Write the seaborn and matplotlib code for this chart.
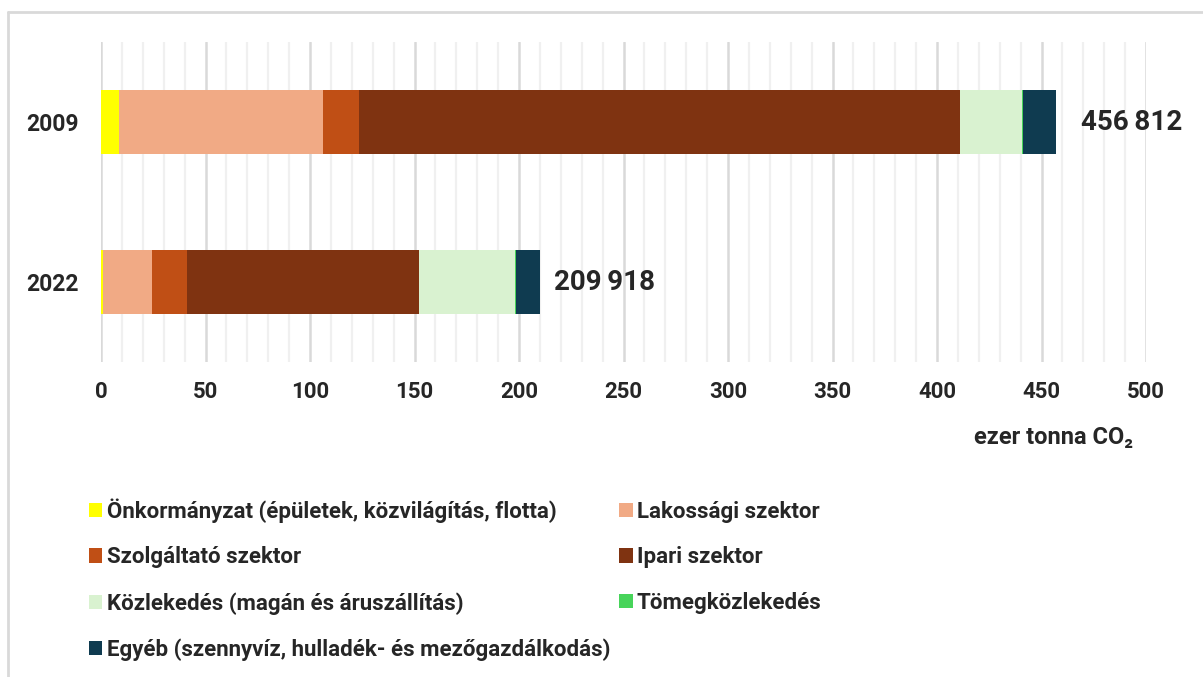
import matplotlib
matplotlib.use("Agg")
import matplotlib.pyplot as plt
import seaborn as sns
import pandas as pd
import numpy as np
from matplotlib.lines import Line2D
from matplotlib.patches import Patch

years = ["2009", "2022"]
sectors = [
    "Önkormányzat (épületek, közvilágítás, flotta)",
    "Lakossági szektor",
    "Szolgáltató szektor",
    "Ipari szektor",
    "Közlekedés (magán és áruszállítás)",
    "Tömegközlekedés",
    "Egyéb (szennyvíz, hulladék- és mezőgazdálkodás)",
]
colors = ["#FFFF00", "#F1AA85", "#C04F15", "#7F3311", "#D9F2D0", "#47D45A", "#0F3B50"]
vals_2009 = [8.6, 97.4, 17.3, 287.9, 29.5, 0.5, 15.612]
vals_2022 = [1.1, 23.2, 17.0, 110.7, 45.9, 0.5, 11.518]
totals = ["456\u2009812", "209\u2009918"]

sns.set_style("white")
plt.rcParams["font.family"] = ["Roboto", "DejaVu Sans"]
plt.rcParams["font.weight"] = "bold"

# cumulative ends for stacked bars
cum = np.cumsum(np.array([vals_2009, vals_2022]), axis=1)
df = pd.DataFrame(cum, index=years, columns=sectors).reset_index(names="year")

fig = plt.figure(figsize=(12.03, 6.77), dpi=100)
ax = fig.add_axes([101 / 1203, 1 - 362 / 677, 1045 / 1203, 320 / 677])

# draw from the largest cumulative down so smaller segments sit on top
for i in range(len(sectors) - 1, -1, -1):
    sns.barplot(data=df, x=sectors[i], y="year", order=years, orient="h",
                color=colors[i], width=0.4, linewidth=0, saturation=1, ax=ax)

ax.set_xlim(0, 500)
ax.set_ylim(1.5, -0.5)
ax.set_xticks(np.arange(0, 501, 50))
ax.set_xticks(np.arange(0, 501, 10), minor=True)
ax.grid(True, axis="x", which="minor", color="#f0f0f0", lw=1.6)
ax.grid(True, axis="x", which="major", color="#d9d9d9", lw=1.8)
ax.set_axisbelow(True)
ax.tick_params(axis="both", which="both", length=0)
ax.tick_params(axis="x", pad=14, labelsize=16)
ax.tick_params(axis="y", pad=16, labelsize=16.5)
for lab in ax.get_xticklabels() + ax.get_yticklabels():
    lab.set_fontweight("bold")
ax.set_xlabel("")
ax.set_ylabel("")
sns.despine(ax=ax, left=True, bottom=True)

offsets = [18, 10]
for j, t in enumerate(totals):
    ax.annotate(t, xy=(cum[j, -1], j), xytext=(offsets[j], 0), textcoords="offset points",
                va="center", ha="left", fontsize=20, fontweight="bold")

fig.text(1053 / 1203, 1 - 438 / 677, "ezer tonna CO\u2082", ha="center", va="center",
         fontsize=17, fontweight="bold")

# legend, row-wise order in two columns
order = [0, 2, 4, 6, 1, 3, 5]
handles = [Patch(facecolor=colors[k], edgecolor="none") for k in order]
labels = [sectors[k] for k in order]
fig.legend(handles, labels, ncol=2, loc="upper left",
           bbox_to_anchor=(69 / 1203, 1 - 478 / 677), frameon=False,
           prop={"weight": "bold", "size": 16},
           handlelength=0.6, handleheight=0.6, handletextpad=0.2,
           labelspacing=1.07, columnspacing=0.4)

# light frame like the original export
fig.add_artist(Line2D([8 / 1203, 1], [1 - 12 / 677] * 2, transform=fig.transFigure,
                      color="#d9d9d9", lw=2))
fig.add_artist(Line2D([8 / 1203] * 2, [0, 1 - 12 / 677], transform=fig.transFigure,
                      color="#d9d9d9", lw=2))

fig.savefig("out.png", dpi=100)
